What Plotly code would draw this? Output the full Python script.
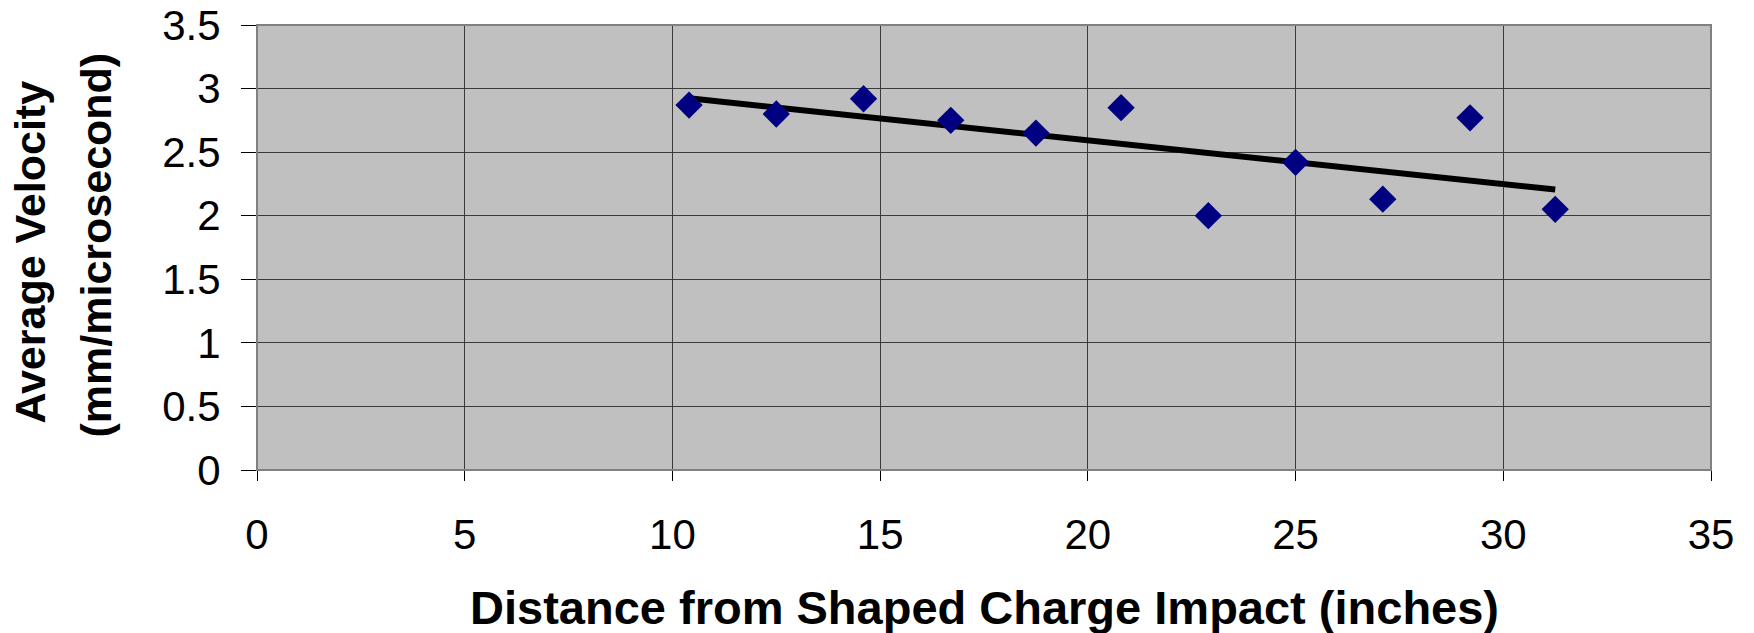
import numpy as np
import plotly.graph_objects as go

distance_in = [10.4, 12.5, 14.6, 16.7, 18.75, 20.8, 22.9, 25.0, 27.1, 29.2, 31.25]
velocity = [2.87, 2.80, 2.92, 2.75, 2.65, 2.85, 2.00, 2.42, 2.13, 2.77, 2.05]

x_ticks = [0, 5, 10, 15, 20, 25, 30, 35]
y_ticks = [0, 0.5, 1, 1.5, 2, 2.5, 3, 3.5]

x_title = "Distance from Shaped Charge Impact (inches)"
y_title_lines = ["Average Velocity", "(mm/microsecond)"]

# linear trendline fitted to the data
slope, intercept = np.polyfit(distance_in, velocity, 1)
trend_x = [min(distance_in), max(distance_in)]
trend_y = [slope * v + intercept for v in trend_x]

fig = go.Figure()
fig.add_trace(go.Scatter(
    x=trend_x, y=trend_y, mode="lines",
    line=dict(color="black", width=6),
    showlegend=False))
fig.add_trace(go.Scatter(
    x=distance_in, y=velocity, mode="markers",
    marker=dict(symbol="diamond", size=21, color="#000080"),
    showlegend=False, cliponaxis=False))

font = "Liberation Sans, Arial, sans-serif"
fig.update_layout(
    width=1754, height=633,
    margin=dict(l=257, r=43, t=25, b=163),
    paper_bgcolor="white", plot_bgcolor="#C0C0C0",
    font=dict(family=font, color="black"),
    xaxis=dict(
        range=[0, 35], tickvals=x_ticks, ticktext=[str(v) for v in x_ticks],
        showgrid=True, gridcolor="#3a3a3a", gridwidth=1,
        showline=True, linecolor="black", linewidth=1,
        ticks="outside", ticklen=10, tickcolor="black",
        tickfont=dict(size=42, family=font),
        ticklabelstandoff=18, ticklabeloverflow="allow",
        zeroline=False, automargin=False,
    ),
    yaxis=dict(
        range=[0, 3.5], tickvals=y_ticks, ticktext=[("%g" % v) for v in y_ticks],
        showgrid=True, gridcolor="#3a3a3a", gridwidth=1,
        showline=True, linecolor="black", linewidth=1,
        ticks="outside", ticklen=15, tickcolor="black",
        tickfont=dict(size=42, family=font),
        ticklabelstandoff=12, ticklabeloverflow="allow",
        zeroline=False, automargin=False,
    ),
    shapes=[dict(type="rect", xref="paper", yref="paper", x0=0, x1=1, y0=0, y1=1,
                 line=dict(color="#808080", width=2), layer="above")],
    annotations=[
        dict(text="<b>%s</b>" % x_title, xref="paper", yref="paper", x=0.5, y=0,
             xanchor="center", yanchor="middle", yshift=-137, showarrow=False,
             font=dict(size=47, family=font)),
        dict(text="<b>%s</b>" % y_title_lines[0], xref="paper", yref="paper", x=0, y=0.5,
             xanchor="center", yanchor="middle", xshift=-228, yshift=-5, textangle=-90,
             showarrow=False, font=dict(size=43, family=font)),
        dict(text="<b>%s</b>" % y_title_lines[1], xref="paper", yref="paper", x=0, y=0.5,
             xanchor="center", yanchor="middle", xshift=-162, yshift=2, textangle=-90,
             showarrow=False, font=dict(size=43, family=font)),
    ],
)

fig.write_html("out.html", config={"displayModeBar": False},
               post_script="document.body.style.margin='0';document.body.style.overflow='hidden';")
